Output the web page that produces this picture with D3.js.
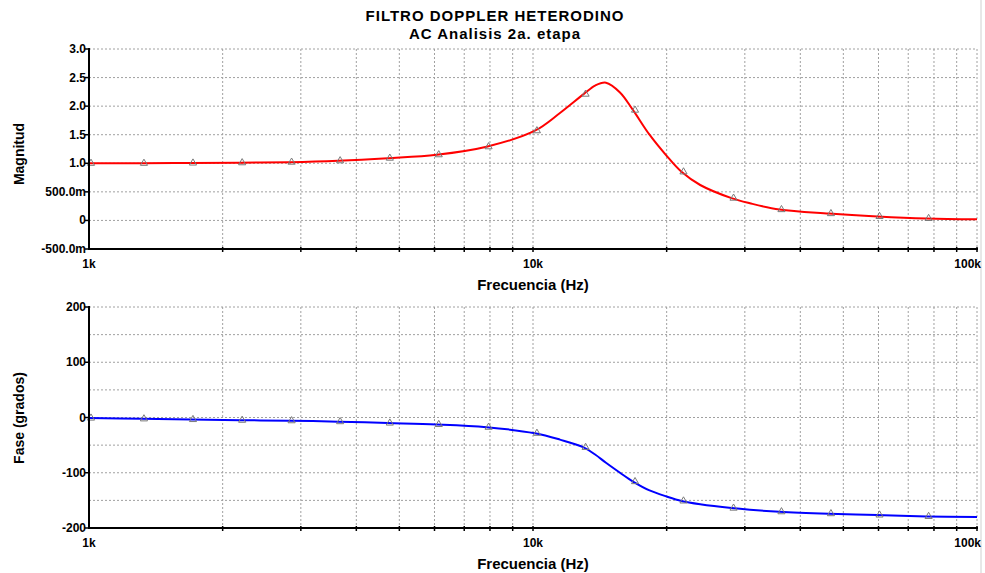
<!DOCTYPE html>
<html>
<head>
<title>Filtro Doppler Heterodino</title>
<script src="https://cdn.jsdelivr.net/npm/d3@7"></script>
<style type="text/css">
	body { margin: 0; background: #fff; }
	#grafico { width: 985px; height: 573px; display: block; }
	text { font-family: Arial, "Liberation Sans", sans-serif; font-weight: bold; fill: #000; }
	.titulo { font-size: 15px; letter-spacing: 1px; }
	.tickLabel { font-size: 12px; }
	.ejeTitulo { font-size: 15px; }
	.yTitulo { font-size: 14px; }
	.grid line { stroke: #a0a0a0; stroke-width: 1; stroke-dasharray: 2,2; }
	.eje { stroke: #000; stroke-width: 2; }
	.marca { fill: none; stroke: #7a7a7a; stroke-width: 1; }
</style>
</head>
<body>

<svg id="grafico"></svg>

<script>
// frecuencias (Hz)
var freq = [1000, 1316, 1697, 2190, 2830, 3640, 4710, 6070, 7860, 10100, 11500, 13000, 13800, 14600,
	15700, 16800, 18300, 20000, 21600, 23800, 28000, 30800, 35900, 46400, 59700, 77000, 100000];

var magnitud = [1.00, 1.00, 1.005, 1.01, 1.02, 1.045, 1.09, 1.15, 1.29, 1.57, 1.88, 2.21, 2.36, 2.41,
	2.24, 1.93, 1.50, 1.13, 0.85, 0.62, 0.39, 0.30, 0.19, 0.12, 0.07, 0.035, 0.02];

var fase = [-1, -2.4, -3.6, -4.9, -5.8, -7.5, -10, -12.6, -17.6, -28.5, -40, -54, -67, -82,
	-100, -116, -132, -143, -151, -157, -164, -167, -170.5, -174, -176.4, -179, -180];

// puntos donde el simulador pone los triangulos
var freqMarcas = [1000, 1316, 1697, 2190, 2830, 3640, 4710, 6070, 7860, 10100, 13000, 16800,
	21600, 28000, 35900, 46400, 59700, 77000];

var ticksMag = [-0.5, 0, 0.5, 1, 1.5, 2, 2.5, 3];
var etiquetasMag = ['-500.0m', '0', '500.0m', '1.0', '1.5', '2.0', '2.5', '3.0'];

var ticksFase = [-200, -100, 0, 100, 200];
var etiquetasFase = ['-200', '-100', '0', '100', '200'];
var gridFase = [-200, -150, -100, -50, 0, 50, 100, 150, 200];

var ticksFrec = [1000, 10000, 100000];
var etiquetasFrec = ['1k', '10k', '100k'];

var svg = d3.select('#grafico');

var x = d3.scaleLog().domain([1000, 100000]).range([89, 977]);
var gridFrec = x.ticks();

var yMag = d3.scaleLinear().domain([-0.5, 3]).range([249, 49]);
var yFase = d3.scaleLinear().domain([-200, 200]).range([528, 307]);

// borde gris de la ventana
svg.append('line')
	.attr('x1', 981).attr('x2', 981)
	.attr('y1', 0).attr('y2', 573)
	.style('stroke', '#d0d0d0');

svg.append('text').classed('titulo', true)
	.attr('x', 495).attr('y', 21)
	.attr('text-anchor', 'middle')
	.text('FILTRO DOPPLER HETERODINO');

svg.append('text').classed('titulo', true)
	.attr('x', 495).attr('y', 39)
	.attr('text-anchor', 'middle')
	.text('AC Analisis 2a. etapa');

function panel(y, gridY, ticksY, etiquetasY, valores, color, tituloY, yTituloY, yTituloX) {
	var g = svg.append('g');
	var y0 = y.range()[0], y1 = y.range()[1];

	var grid = g.append('g').classed('grid', true);

	grid.selectAll('.gh')
		.data(gridY)
		.enter()
		.append('line')
		.attr('x1', x.range()[0]).attr('x2', x.range()[1])
		.attr('y1', function(d) { return y(d); })
		.attr('y2', function(d) { return y(d); });

	grid.selectAll('.gv')
		.data(gridFrec.slice(1))
		.enter()
		.append('line')
		.attr('x1', function(d) { return x(d); })
		.attr('x2', function(d) { return x(d); })
		.attr('y1', y1).attr('y2', y0);

	// curva
	var linea = d3.line()
		.x(function(d, i) { return x(freq[i]); })
		.y(function(d) { return y(d); })
		.curve(d3.curveCatmullRom.alpha(0.5));

	g.append('path')
		.datum(valores)
		.attr('d', linea)
		.style('fill', 'none')
		.style('stroke', color)
		.style('stroke-width', 2);

	var tri = d3.symbol().type(d3.symbolTriangle).size(22);

	g.selectAll('.marca')
		.data(freqMarcas)
		.enter()
		.append('path')
		.classed('marca', true)
		.attr('d', tri)
		.attr('transform', function(d) {
			var v = valores[freq.indexOf(d)];
			return 'translate(' + (x(d) + 2) + ',' + y(v) + ')';
		});

	// ejes
	g.append('line').classed('eje', true)
		.attr('x1', x.range()[0]).attr('x2', x.range()[0])
		.attr('y1', y1 - 1).attr('y2', y0 + 1);
	g.append('line').classed('eje', true)
		.attr('x1', x.range()[0] - 1).attr('x2', x.range()[1] + 1)
		.attr('y1', y0).attr('y2', y0);

	g.selectAll('.ty')
		.data(ticksY)
		.enter()
		.append('line')
		.attr('x1', x.range()[0] - 4).attr('x2', x.range()[0])
		.attr('y1', function(d) { return y(d); })
		.attr('y2', function(d) { return y(d); })
		.style('stroke', '#000').style('stroke-width', 1.5);

	g.selectAll('.tx')
		.data(gridFrec.slice(1))
		.enter()
		.append('line')
		.attr('x1', function(d) { return x(d); })
		.attr('x2', function(d) { return x(d); })
		.attr('y1', y0 - 2).attr('y2', y0 + 3)
		.style('stroke', '#000').style('stroke-width', 1.5);

	g.selectAll('.ly')
		.data(ticksY)
		.enter()
		.append('text')
		.classed('tickLabel', true)
		.attr('x', x.range()[0] - 3)
		.attr('y', function(d) { return y(d) + 4; })
		.attr('text-anchor', 'end')
		.text(function(d, i) { return etiquetasY[i]; });

	g.selectAll('.lx')
		.data(ticksFrec)
		.enter()
		.append('text')
		.classed('tickLabel', true)
		.attr('x', function(d, i) { return i == 2 ? x(d) + 4 : x(d); })
		.attr('y', y0 + 19)
		.attr('text-anchor', function(d, i) { return i == 2 ? 'end' : 'middle'; })
		.text(function(d, i) { return etiquetasFrec[i]; });

	g.append('text').classed('ejeTitulo', true)
		.attr('x', 533).attr('y', y0 + 41)
		.attr('text-anchor', 'middle')
		.text('Frecuencia (Hz)');

	g.append('text').classed('yTitulo', true)
		.attr('transform', 'translate(' + yTituloX + ',' + yTituloY + ') rotate(-90)')
		.attr('text-anchor', 'middle')
		.text(tituloY);
}

panel(yMag, ticksMag, ticksMag, etiquetasMag, magnitud, '#ff0000', 'Magnitud', 154, 24);
panel(yFase, gridFase, ticksFase, etiquetasFase, fase, '#0000ff', 'Fase (grados)', 418, 24);

</script>

</body>
</html>
